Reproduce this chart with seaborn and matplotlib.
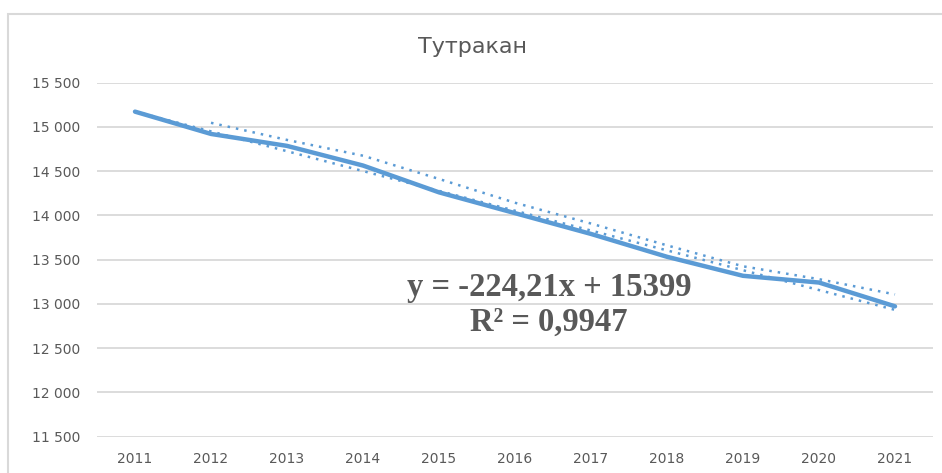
import numpy as np
import pandas as pd
import matplotlib
matplotlib.use("Agg")
import matplotlib.pyplot as plt
import seaborn as sns
from matplotlib.patches import Rectangle

years = ["2011", "2012", "2013", "2014", "2015", "2016", "2017", "2018", "2019", "2020", "2021"]
population = [15173, 14921, 14786, 14564, 14261, 14026, 13791, 13533, 13318, 13242, 12973]
ytick_values = [11500, 12000, 12500, 13000, 13500, 14000, 14500, 15000, 15500]
ytick_labels = ["11 500", "12 000", "12 500", "13 000", "13 500", "14 000", "14 500", "15 000", "15 500"]
title = "Тутракан"
eq_line1 = "y = -224,21x + 15399"
eq_line2 = "R² = 0,9947"

sns.set_theme(style="white")
plt.rcParams["font.family"] = ["DejaVu Sans"]

W, H = 942, 473
fig = plt.figure(figsize=(W / 100, H / 100), dpi=100)
left, right, top, bottom = 97, 933, 82.7, 436.7
ax = fig.add_axes([left / W, 1 - bottom / H, (right - left) / W, (bottom - top) / H])

blue = "#5B9BD5"
grey_text = "#595959"
grid_c = "#D9D9D9"

df = pd.DataFrame({"pos": np.arange(len(years)), "value": population})
df["ma"] = df["value"].rolling(2).mean()

sns.lineplot(data=df, x="pos", y="value", ax=ax, color=blue, linewidth=3.2,
             solid_capstyle="round", solid_joinstyle="round", zorder=3)
sns.lineplot(data=df.dropna(), x="pos", y="ma", ax=ax, color=blue, linewidth=1.8,
             linestyle=(0, (1, 2.4)), zorder=4)
sns.regplot(data=df, x="pos", y="value", ax=ax, scatter=False, ci=None,
            line_kws=dict(color=blue, linewidth=1.8, linestyle=(0, (1, 2.4)), zorder=4))

ax.set_xlim(-0.5, len(years) - 0.5)
ax.set_ylim(11500, 15500)
ax.set_xticks(np.arange(len(years)))
ax.set_xticklabels(years)
ax.set_yticks(ytick_values)
ax.set_yticklabels(ytick_labels)
ax.set_xlabel("")
ax.set_ylabel("")
ax.tick_params(axis="both", length=0, labelsize=10, colors=grey_text)
ax.tick_params(axis="y", pad=12)
ax.tick_params(axis="x", pad=11)
ax.grid(axis="y", color=grid_c, linewidth=1.3)
ax.grid(axis="x", visible=False)
for s in ["top", "right", "left", "bottom"]:
    ax.spines[s].set_visible(False)
ax.set_axisbelow(True)

fig.text(472 / W, 1 - 47 / H, title, ha="center", va="center", fontsize=16, color=grey_text)

fig.text(549 / W, 1 - 296 / H, eq_line1, ha="center", va="baseline", fontsize=23.5,
         fontweight="bold", family=["Liberation Serif", "DejaVu Serif"], color=grey_text)
fig.text(549 / W, 1 - 331 / H, eq_line2, ha="center", va="baseline", fontsize=23.5,
         fontweight="bold", family=["Liberation Serif", "DejaVu Serif"], color=grey_text)

fig.patches.append(Rectangle((8 / W, -0.05), 1.0, 1 - 14 / H + 0.05, transform=fig.transFigure,
                             fill=False, edgecolor=grid_c, linewidth=1.5, zorder=0))

fig.savefig("out.png", dpi=100, facecolor="white")
